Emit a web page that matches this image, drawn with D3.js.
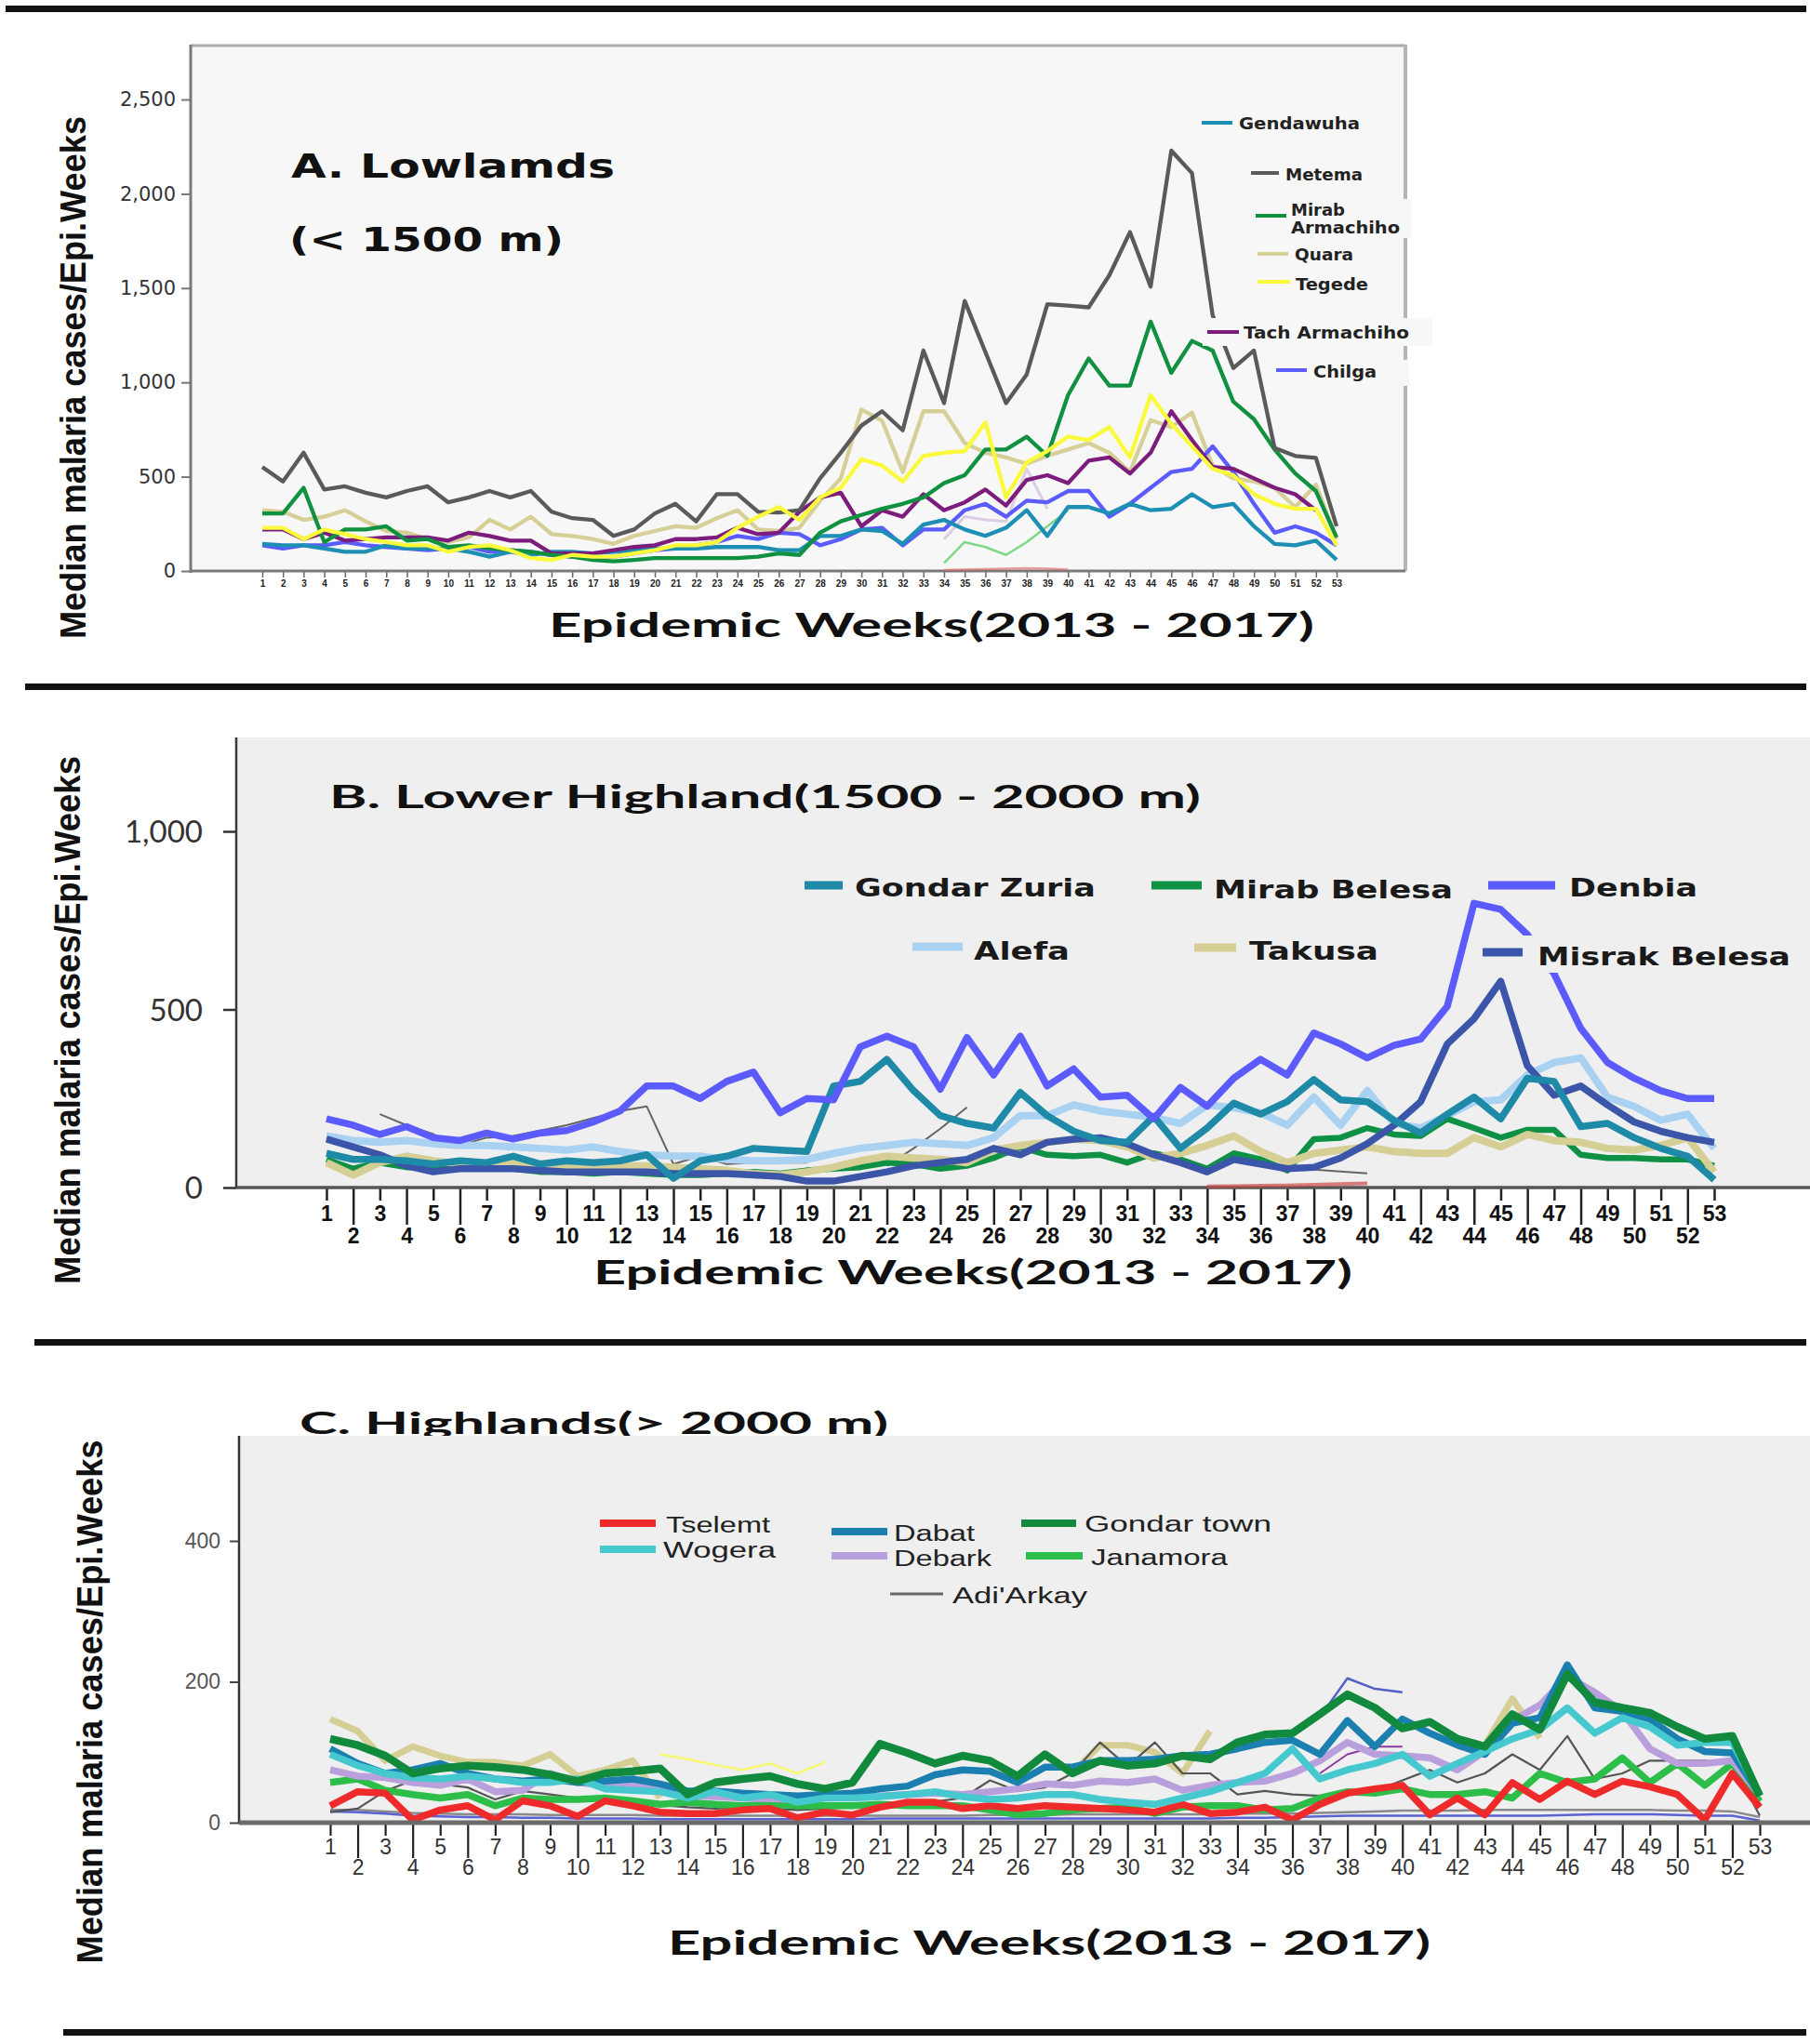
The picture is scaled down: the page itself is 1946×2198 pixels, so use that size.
<!DOCTYPE html>
<html><head><meta charset="utf-8">
<script src="https://cdn.jsdelivr.net/npm/d3@7"></script>
<style>body{margin:0;background:#fff}</style>
</head><body>
<svg id="chart" width="1946" height="2198" xmlns="http://www.w3.org/2000/svg"></svg>
<script>
// ---------------- DATA ----------------
const weeks = d3.range(1, 54);

// Panel A: Lowlands
const gendawuha = [144,136,136,119,102,102,136,119,119,119,102,76,102,85,102,102,93,102,110,119,119,119,127,127,127,110,110,186,186,220,212,144,246,271,220,186,229,322,186,339,339,305,356,322,330,407,339,356,237,144,136,161,59];
const metema = [551,475,627,432,449,415,390,424,449,364,390,424,390,424,314,280,271,186,220,305,356,263,407,407,314,310,322,491,627,771,847,746,1169,890,1432,1161,890,1042,1415,1407,1398,1568,1797,1508,2229,2110,1356,1076,1169,652,610,600,237];
const mirabArmachiho = [305,305,441,153,220,220,237,161,169,127,136,120,110,102,85,76,59,51,59,68,68,68,68,68,76,93,85,203,263,297,330,356,390,466,508,644,644,712,610,932,1127,983,983,1322,1051,1220,1169,898,805,644,517,424,178];
const quara = [322,314,271,288,322,263,212,203,169,153,178,271,220,288,195,186,169,144,186,212,237,229,280,322,220,212,229,373,491,856,797,525,847,847,678,627,602,568,610,644,678,627,525,800,763,839,559,491,475,441,339,458,169];
const tegede = [229,229,169,220,195,169,153,136,136,102,127,136,110,68,59,85,76,76,93,110,136,136,153,229,288,339,271,390,441,593,559,475,610,627,636,788,390,576,636,712,695,763,602,932,780,661,542,508,407,356,330,330,136];
const tachArmachiho = [220,220,169,203,161,169,178,178,178,161,203,186,161,161,93,93,93,110,127,136,169,169,178,229,195,203,314,390,415,237,322,288,407,322,364,432,347,483,508,466,585,602,517,627,847,695,551,542,491,441,407,322,null];
const chilga = [136,119,136,136,153,136,127,119,110,119,127,102,110,102,85,76,68,76,93,110,119,136,153,186,169,203,195,136,169,220,229,136,220,220,322,356,288,373,364,424,424,288,356,441,525,542,661,525,356,203,237,203,136];
// faint unlabeled traces in panel A
const strayA_green = [null,null,null,null,null,null,null,null,null,null,null,null,null,null,null,null,null,null,null,null,null,null,null,null,null,null,null,null,null,null,null,null,null,42,153,127,85,153,237,322,null,null,null,null,null,null,null,null,null,null,null,null,null];
const strayA_lilac = [null,null,null,null,null,null,null,null,null,null,null,null,null,null,null,null,null,null,null,null,null,null,null,null,null,null,null,null,null,null,null,null,null,169,288,271,263,542,330,null,null,null,null,null,null,null,null,null,null,null,null,null,null];
const strayA_red = [null,null,null,null,null,null,null,null,null,null,null,null,null,null,null,null,null,null,null,null,null,null,null,null,null,null,null,null,null,null,null,null,null,5,8,10,12,15,12,8,null,null,null,null,null,null,null,null,null,null,null,null,null];

// Panel B: Lower Highland
const gondarZuria = [96,79,79,75,66,75,70,88,66,75,70,75,92,26,75,88,110,105,101,285,298,360,272,202,180,167,267,202,158,132,127,200,110,167,237,206,241,303,246,241,189,153,206,254,193,307,298,171,180,140,110,88,22];
const mirabBelesa = [79,53,70,57,57,53,53,53,44,44,39,44,39,35,35,39,44,39,48,53,57,70,66,53,61,83,114,92,88,92,70,96,79,53,96,79,48,136,140,167,149,145,193,167,140,162,162,92,83,83,79,79,61];
const denbia = [193,175,149,171,140,132,153,136,153,160,184,215,285,285,250,298,324,210,250,246,395,425,395,276,421,316,425,285,333,254,259,193,281,228,307,360,316,434,403,364,399,417,509,798,781,710,600,447,351,307,272,250,250];
const alefa = [145,132,127,132,123,118,118,114,110,105,114,101,92,88,88,79,75,75,79,96,110,118,127,123,118,140,202,202,232,215,206,197,180,232,224,210,175,254,175,272,180,167,202,241,246,316,351,364,254,228,189,206,110];
const takusa = [70,35,70,88,75,66,66,70,61,61,61,61,61,57,53,48,39,35,44,57,75,88,83,79,70,105,118,127,136,132,114,83,96,118,145,101,70,96,105,114,101,96,96,140,114,149,132,127,110,105,118,140,44];
const misrakBelesa = [136,114,92,61,44,53,53,53,48,44,44,44,44,39,39,39,35,31,18,18,31,44,61,70,79,110,92,127,136,140,123,92,70,44,79,66,53,57,83,123,175,241,403,474,579,342,259,285,232,184,158,140,127];
const strayB_gray = [null,null,206,175,150,118,140,145,160,175,195,215,228,66,88,66,70,70,70,null,null,61,110,165,225,null,null,null,null,null,null,null,null,null,null,70,55,50,45,40,null,null,null,null,null,null,null,null,null,null,null,null,null];
const strayB_red = [null,null,null,null,null,null,null,null,null,null,null,null,null,null,null,null,null,null,null,null,null,null,null,null,null,null,null,null,null,null,null,null,null,3,4,5,6,8,10,12,null,null,null,null,null,null,null,null,null,null,null,null,null];

// Panel C: Highlands
const tselemt = [24,44,42,4,18,24,4,31,24,9,31,24,15,13,13,18,20,7,15,11,22,29,29,20,24,20,24,22,20,18,15,26,13,15,22,4,26,42,48,53,11,35,11,57,33,59,40,59,51,40,4,70,22];
const wogera = [97,81,70,64,62,66,62,57,57,62,48,46,44,35,44,35,40,29,35,35,37,40,44,37,33,35,40,40,33,29,26,35,44,57,70,105,62,75,84,97,66,84,101,119,132,163,127,149,136,110,114,114,40];
const dabat = [105,84,70,75,84,70,62,59,62,57,59,62,55,45,45,42,40,38,40,42,48,52,68,75,73,57,79,79,88,88,90,95,97,105,114,117,97,145,108,147,127,110,97,141,149,224,163,158,147,119,101,99,40];
const debark = [75,66,64,57,53,62,44,46,70,57,53,53,51,38,37,35,34,33,35,36,38,40,42,40,44,48,55,53,59,57,62,46,53,57,59,70,88,114,97,95,92,75,101,145,167,207,185,158,105,84,84,88,40];
const gondarTown = [119,110,95,70,77,81,79,75,68,59,70,73,77,40,57,62,66,55,48,57,112,99,84,95,88,66,97,70,88,81,84,95,90,114,125,127,154,182,163,134,143,119,108,154,132,211,171,163,156,136,119,123,38];
const janamora = [57,62,46,40,35,40,24,35,33,33,35,31,26,29,26,24,26,24,24,24,26,24,24,24,18,11,13,18,20,22,13,22,24,24,18,20,35,44,42,48,40,40,44,35,70,57,62,92,57,84,53,84,30];
const adiArkay = [15,20,45,60,55,50,33,45,40,35,30,28,25,22,20,22,20,18,20,22,25,28,30,35,60,45,50,70,114,80,114,70,70,40,45,40,38,40,45,60,75,57,70,97,75,123,62,70,88,88,88,84,10];
const strayC_khaki = [147,130,88,108,95,86,86,81,97,66,75,88,35,null,null,null,null,null,null,null,null,null,null,null,null,null,null,70,110,110,100,70,130,null,null,null,null,null,null,null,null,null,110,176,120,null,null,null,null,null,null,125,40];
const strayC_yellow = [null,null,null,null,null,null,null,null,null,null,null,null,97,90,82,75,84,70,86,null,null,null,null,null,null,null,null,null,null,null,null,null,null,null,null,null,null,null,null,null,null,null,null,null,null,null,null,null,null,null,null,null,null];
const strayC_blue = [null,null,null,null,null,null,null,null,null,null,null,null,null,null,null,null,null,null,null,null,null,null,null,null,null,null,null,null,null,null,null,null,null,null,null,130,150,205,190,185,null,null,null,null,null,null,null,null,null,null,null,null,null];
const strayC_purple = [null,null,null,null,null,null,null,null,null,null,null,null,null,null,null,null,null,null,null,null,null,null,null,null,null,null,null,null,null,null,null,null,null,null,null,null,70,97,108,108,null,null,null,null,null,null,null,null,null,null,null,null,null];
const strayC_lowBlue = [16,15,13,10,9,8,8,7,7,6,6,6,5,5,5,5,5,5,5,5,6,6,6,6,6,6,6,6,6,6,6,6,6,7,7,8,9,10,10,10,10,10,10,10,10,11,12,12,12,11,10,10,3];
const strayC_lowGray = [18,18,16,14,13,12,12,12,11,11,11,11,10,10,10,10,10,10,10,10,10,10,10,10,11,11,11,12,12,12,12,12,12,13,13,13,14,15,16,17,17,17,18,18,18,18,18,18,18,17,17,16,8];

// tick values
const ticksA = [0, 500, 1000, 1500, 2000, 2500];
const ticksB = [0, 500, 1000];
const ticksC = [0, 200, 400];

const yTitle = "Median malaria cases/Epi.Weeks";
const xTitle = "Epidemic Weeks(2013 - 2017)";

// ---------------- DRAWING ----------------
const svg = d3.select("#chart");
const VERD = "'DejaVu Sans', Verdana, sans-serif";
const CAL = "Lato, 'Open Sans', sans-serif";
const ARIAL = "'Liberation Sans', Arial, sans-serif";

function text(g, x, y, s, o) {
  const t = g.append("text").text(s)
    .attr("font-family", o.family || VERD).attr("font-size", o.size)
    .attr("font-weight", o.weight || "normal").attr("fill", o.fill || "#111");
  if (o.rotate) t.attr("x", 0).attr("y", 0).attr("transform", `translate(${x},${y}) rotate(-90)`);
  else t.attr("x", x).attr("y", y);
  if (o.len) t.attr("textLength", o.len).attr("lengthAdjust", "spacingAndGlyphs");
  if (o.anchor) t.attr("text-anchor", o.anchor);
  return t;
}
function rule(x1, x2, y, h) {
  svg.append("rect").attr("x", x1).attr("y", y).attr("width", x2 - x1).attr("height", h).attr("fill", "#111");
}
function drawSeries(g, x, y, vals, color, width, opacity) {
  const line = d3.line().defined(d => d != null).x((d, i) => x(weeks[i])).y(d => y(d));
  g.append("path").datum(vals).attr("d", line).attr("fill", "none")
    .attr("stroke", color).attr("stroke-width", width).attr("stroke-linejoin", "round")
    .attr("stroke-linecap", "butt").attr("opacity", opacity == null ? 1 : opacity);
}

// horizontal rules
rule(6, 1942, 6, 7);
rule(27, 1942, 735, 7);
rule(37, 1942, 1440, 7);
rule(68, 1942, 2182, 7);

// ================= PANEL A =================
{
  const g = svg.append("g");
  const x = d3.scaleLinear().domain([1, 53]).range([282, 1437]);
  const y = d3.scaleLinear().domain([0, 2500]).range([614, 107]);
  g.append("rect").attr("x", 205).attr("y", 48).attr("width", 1306).attr("height", 566).attr("fill", "#f7f7f7");
  g.append("line").attr("x1", 205).attr("x2", 1511).attr("y1", 49).attr("y2", 49).attr("stroke", "#ababab").attr("stroke-width", 3);
  g.append("line").attr("x1", 1511).attr("x2", 1511).attr("y1", 48).attr("y2", 614).attr("stroke", "#b5b5b5").attr("stroke-width", 4);
  g.append("line").attr("x1", 205).attr("x2", 205).attr("y1", 48).attr("y2", 616).attr("stroke", "#7a7a7a").attr("stroke-width", 3);

  const ya = g.append("g").attr("transform", "translate(205,0)")
    .call(d3.axisLeft(y).tickValues(ticksA).tickFormat(d3.format(",")).tickSize(10).tickPadding(6));
  ya.select(".domain").remove();
  ya.selectAll("line").attr("stroke", "#777").attr("stroke-width", 2);
  ya.selectAll("text").attr("font-family", VERD).attr("font-size", 21).attr("fill", "#333");

  const xa = g.append("g").attr("transform", "translate(0,614)")
    .call(d3.axisBottom(x).tickValues(weeks).tickSize(7).tickPadding(3));
  xa.select(".domain").remove();
  xa.selectAll("line").attr("stroke", "#666").attr("stroke-width", 1.5);
  xa.selectAll("text").attr("font-family", ARIAL).attr("font-size", 10).attr("font-weight", "bold").attr("fill", "#222");
  g.append("line").attr("x1", 205).attr("x2", 1511).attr("y1", 614).attr("y2", 614).attr("stroke", "#7a7a7a").attr("stroke-width", 3);

  const lg = g.append("g");
  drawSeries(lg, x, y, strayA_red, "#e06060", 2.5, 0.6);
  drawSeries(lg, x, y, strayA_lilac, "#d9c7e3", 3, 0.9);
  drawSeries(lg, x, y, strayA_green, "#6fd47a", 2.5, 0.9);
  drawSeries(lg, x, y, quara, "#d6cf97", 4.3);
  drawSeries(lg, x, y, chilga, "#5a5cff", 4.3);
  drawSeries(lg, x, y, gendawuha, "#1d8fb5", 4.3);
  drawSeries(lg, x, y, tachArmachiho, "#7c1c7c", 4.3);
  drawSeries(lg, x, y, mirabArmachiho, "#0f9140", 4.3);
  drawSeries(lg, x, y, metema, "#5a5a5a", 4.3);
  drawSeries(lg, x, y, tegede, "#fafa3a", 4.3);

  // legend
  const leg = g.append("g");
  leg.append("rect").attr("x", 1345).attr("y", 214).attr("width", 172).attr("height", 42).attr("fill", "#f7f7f7");
  leg.append("rect").attr("x", 1293).attr("y", 342).attr("width", 247).attr("height", 30).attr("fill", "#f8f8f8");
  leg.append("rect").attr("x", 1365).attr("y", 387).attr("width", 150).attr("height", 28).attr("fill", "#f7f7f7");
  const items = [
    ["Gendawuha", "#1d8fb5", 1292, 1325, 132, 1332, 139, 130],
    ["Metema", "#5a5a5a", 1345, 1375, 186, 1382, 194, 83],
    ["Mirab", "#0f9140", 1350, 1383, 232, 1388, 232, 58],
    ["Quara", "#d6cf97", 1352, 1385, 273, 1392, 280, 63],
    ["Tegede", "#fafa3a", 1352, 1387, 303, 1393, 312, 78],
    ["Tach Armachiho", "#7c1c7c", 1298, 1332, 357, 1337, 364, 178],
    ["Chilga", "#5a5cff", 1372, 1405, 398, 1412, 406, 68]
  ];
  items.forEach(d => {
    leg.append("line").attr("x1", d[2]).attr("x2", d[3]).attr("y1", d[4]).attr("y2", d[4]).attr("stroke", d[1]).attr("stroke-width", 4);
    text(leg, d[5], d[6], d[0], {size: 18, weight: "bold", fill: "#222", len: d[7]});
  });
  text(leg, 1388, 251, "Armachiho", {size: 18, weight: "bold", fill: "#222", len: 117});

  text(g, 313, 191, "A. Lowlamds", {size: 35, weight: "bold", len: 348});
  text(g, 311, 270, "(< 1500 m)", {size: 35, weight: "bold", len: 295});
  text(g, 92, 406, yTitle, {size: 38, weight: "bold", len: 562, anchor: "middle", rotate: true, family: ARIAL});
  text(g, 590, 685, xTitle, {size: 36, weight: "bold", len: 823, family: CAL});
}

// ================= PANEL B =================
{
  const g = svg.append("g");
  const x = d3.scaleLinear().domain([1, 53]).range([351, 1843]);
  const y = d3.scaleLinear().domain([0, 1000]).range([1277, 894]);
  g.append("rect").attr("x", 254).attr("y", 793).attr("width", 1692).attr("height", 484).attr("fill", "#efefef");
  g.append("line").attr("x1", 254).attr("x2", 254).attr("y1", 793).attr("y2", 1278).attr("stroke", "#3a3a3a").attr("stroke-width", 2.5);

  const ya = g.append("g").attr("transform", "translate(254,0)")
    .call(d3.axisLeft(y).tickValues(ticksB).tickFormat(d3.format(",")).tickSize(14).tickPadding(22));
  ya.select(".domain").remove();
  ya.selectAll("line").attr("stroke", "#333").attr("stroke-width", 2.5);
  ya.selectAll("text").attr("font-family", CAL).attr("font-size", 33).attr("fill", "#333").attr("dy", "0.36em");

  // x ticks: odd labels on the first row, even labels on the second row with long ticks
  const xa = g.append("g").attr("transform", "translate(0,1277)")
    .call(d3.axisBottom(x).tickValues(weeks).tickSize(14).tickPadding(6));
  xa.select(".domain").remove();
  xa.selectAll(".tick line").attr("stroke", "#222").attr("stroke-width", 2.5)
    .attr("y2", d => d % 2 === 0 ? 40 : 14);
  xa.selectAll(".tick text").attr("font-family", ARIAL).attr("font-size", 23).attr("font-weight", "bold").attr("fill", "#111")
    .attr("y", d => d % 2 === 0 ? 44 : 20);
  g.append("line").attr("x1", 254).attr("x2", 1946).attr("y1", 1277).attr("y2", 1277).attr("stroke", "#555").attr("stroke-width", 3.5);

  const lg = g.append("g");
  drawSeries(lg, x, y, strayB_red, "#d04848", 4, 0.7);
  drawSeries(lg, x, y, strayB_gray, "#555", 2, 0.9);
  drawSeries(lg, x, y, alefa, "#a8d1f2", 8);
  drawSeries(lg, x, y, mirabBelesa, "#0f9145", 6.5);
  drawSeries(lg, x, y, takusa, "#d5ce95", 8);
  drawSeries(lg, x, y, misrakBelesa, "#3b55a8", 7.5);
  drawSeries(lg, x, y, gondarZuria, "#1f8aa7", 7.5);
  drawSeries(lg, x, y, denbia, "#5b5bff", 7.5);

  const leg = g.append("g");
  leg.append("rect").attr("x", 1588).attr("y", 1006).attr("width", 345).attr("height", 40).attr("fill", "#efefef");
  const items = [
    ["Gondar Zuria", "#1f8aa7", 865, 906, 952, 919, 964, 259],
    ["Mirab Belesa", "#0f9145", 1238, 1292, 952, 1305, 966, 257],
    ["Denbia", "#5b5bff", 1600, 1672, 952, 1687, 964, 138],
    ["Alefa", "#a8d1f2", 981, 1035, 1018, 1047, 1032, 103],
    ["Takusa", "#d5ce95", 1284, 1329, 1019, 1343, 1032, 139],
    ["Misrak Belesa", "#3b55a8", 1594, 1637, 1024, 1653, 1038, 272]
  ];
  items.forEach(d => {
    leg.append("line").attr("x1", d[2]).attr("x2", d[3]).attr("y1", d[4]).attr("y2", d[4]).attr("stroke", d[1]).attr("stroke-width", 9);
    text(leg, d[5], d[6], d[0], {size: 27, weight: "bold", fill: "#1a1a1a", len: d[7]});
  });

  text(g, 354, 869, "B. Lower Highland(1500 - 2000 m)", {size: 35, weight: "bold", len: 937, family: CAL});
  text(g, 86, 1097, yTitle, {size: 38, weight: "bold", len: 568, anchor: "middle", rotate: true, family: ARIAL});
  text(g, 638, 1381, xTitle, {size: 36, weight: "bold", len: 816, family: CAL});
}

// ================= PANEL C =================
{
  const g = svg.append("g");
  const x = d3.scaleLinear().domain([1, 53]).range([355, 1892]);
  const y = d3.scaleLinear().domain([0, 400]).range([1960, 1657]);
  text(g, 322, 1542, "C. Highlands(> 2000 m)", {size: 33, weight: "bold", len: 633, family: CAL});
  g.append("rect").attr("x", 257).attr("y", 1544).attr("width", 1689).attr("height", 416).attr("fill", "#efefef");
  g.append("line").attr("x1", 257).attr("x2", 257).attr("y1", 1544).attr("y2", 1961).attr("stroke", "#333").attr("stroke-width", 2.5);

  const ya = g.append("g").attr("transform", "translate(257,0)")
    .call(d3.axisLeft(y).tickValues(ticksC).tickSize(10).tickPadding(10));
  ya.select(".domain").remove();
  ya.selectAll("line").attr("stroke", "#444").attr("stroke-width", 2);
  ya.selectAll("text").attr("font-family", ARIAL).attr("font-size", 23).attr("fill", "#555");

  const xa = g.append("g").attr("transform", "translate(0,1960)")
    .call(d3.axisBottom(x).tickValues(weeks).tickSize(14).tickPadding(6));
  xa.select(".domain").remove();
  xa.selectAll(".tick line").attr("stroke", "#222").attr("stroke-width", 2.2)
    .attr("y2", d => d % 2 === 0 ? 38 : 14);
  xa.selectAll(".tick text").attr("font-family", ARIAL).attr("font-size", 23).attr("fill", "#333")
    .attr("y", d => d % 2 === 0 ? 40 : 18);

  const lg = g.append("g");
  drawSeries(lg, x, y, strayC_lowGray, "#8a8a8a", 2.5);
  drawSeries(lg, x, y, strayC_lowBlue, "#5a62d6", 2.5);
  drawSeries(lg, x, y, strayC_khaki, "#d5ce95", 7);
  drawSeries(lg, x, y, strayC_yellow, "#f8f870", 2.5);
  drawSeries(lg, x, y, strayC_blue, "#5060c8", 2.5);
  drawSeries(lg, x, y, strayC_purple, "#8a3aa0", 2);
  drawSeries(lg, x, y, adiArkay, "#555", 2.2);
  drawSeries(lg, x, y, janamora, "#2dbd49", 7.5);
  drawSeries(lg, x, y, debark, "#b9a0dc", 7.5);
  drawSeries(lg, x, y, dabat, "#1b80b0", 7.5);
  drawSeries(lg, x, y, tselemt, "#ef2a2a", 7.5);
  drawSeries(lg, x, y, wogera, "#46c8cf", 7.5);
  drawSeries(lg, x, y, gondarTown, "#118a3e", 8.5);
  g.append("line").attr("x1", 257).attr("x2", 1946).attr("y1", 1960).attr("y2", 1960).attr("stroke", "#6a6a6a").attr("stroke-width", 5);

  const leg = g.append("g");
  const items = [
    ["Tselemt", "#ef2a2a", 645, 705, 1638, 716, 1648, 112, 8],
    ["Wogera", "#46c8cf", 645, 705, 1666, 713, 1675, 121, 8],
    ["Dabat", "#1b80b0", 894, 954, 1647, 961, 1657, 87, 8],
    ["Debark", "#b9a0dc", 894, 954, 1673, 961, 1684, 105, 8],
    ["Gondar town", "#118a3e", 1098, 1157, 1638, 1166, 1647, 201, 8],
    ["Janamora", "#2dbd49", 1103, 1164, 1673, 1173, 1683, 147, 8],
    ["Adi'Arkay", "#666", 957, 1014, 1714, 1024, 1724, 145, 3]
  ];
  items.forEach(d => {
    leg.append("line").attr("x1", d[2]).attr("x2", d[3]).attr("y1", d[4]).attr("y2", d[4]).attr("stroke", d[1]).attr("stroke-width", d[8]);
    text(leg, d[5], d[6], d[0], {size: 23, fill: "#222", len: d[7], family: ARIAL});
  });

  text(g, 110, 1830, yTitle, {size: 38, weight: "bold", len: 563, anchor: "middle", rotate: true, family: ARIAL});
  text(g, 718, 2102, xTitle, {size: 36, weight: "bold", len: 820, family: CAL});
}
</script>
</body></html>
